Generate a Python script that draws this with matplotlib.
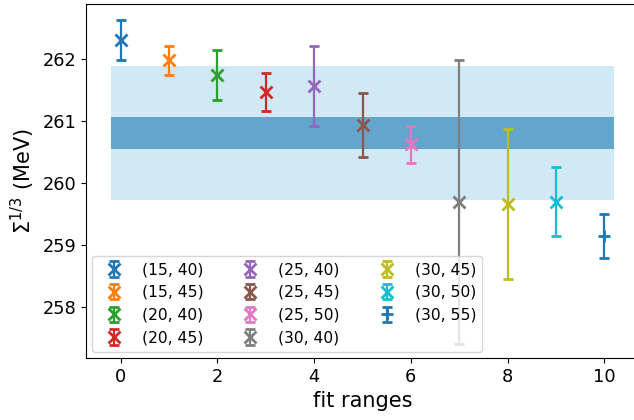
import matplotlib
matplotlib.use("Agg")
import matplotlib.pyplot as plt

# fit-range labels and the fitted values with their errors
fit_labels = ["(15, 40)", "(15, 45)", "(20, 40)", "(20, 45)", "(25, 40)", "(25, 45)",
              "(25, 50)", "(30, 40)", "(30, 45)", "(30, 50)", "(30, 55)"]
values = [262.31, 261.98, 261.75, 261.47, 261.57, 260.94, 260.63, 259.70, 259.67, 259.70, 259.15]
errors = [0.32, 0.23, 0.405, 0.30, 0.65, 0.52, 0.30, 2.29, 1.21, 0.56, 0.36]
markers = ["x"] * 10 + ["+"]

# final estimate: central value, statistical and total uncertainty
band_center = 260.81
band_stat = 0.26
band_total = 1.08
band_x = [-0.2, 10.2]

fig = plt.figure(figsize=(6.34, 4.2), dpi=100)
ax = fig.add_axes([86 / 634, 1 - 358 / 420, (639 - 86) / 634, (358 - 4) / 420])

ax.fill_between(band_x, band_center - band_total, band_center + band_total,
                color="#d0e9f5", lw=0)
ax.fill_between(band_x, band_center - band_stat, band_center + band_stat,
                color="#64a5cd", lw=0)

colors = plt.rcParams["axes.prop_cycle"].by_key()["color"]
for i, (lab, v, e, m) in enumerate(zip(fit_labels, values, errors, markers)):
    ax.errorbar(i, v, yerr=e, fmt=m, color=colors[i % len(colors)], label=lab,
                ms=8, mew=2, elinewidth=1.6, capsize=3.5, capthick=1.6)

ax.set_xlim(-0.72, 10.72)
ax.set_ylim(257.18, 262.89)
ax.set_xticks([0, 2, 4, 6, 8, 10])
ax.set_yticks([258, 259, 260, 261, 262])
ax.tick_params(labelsize=12.8)
ax.set_xlabel("fit ranges", fontsize=15)
ax.set_ylabel(r"$\Sigma^{1/3}$ (MeV)", fontsize=15)

ax.legend(loc="lower left", ncol=3, fontsize=11.2, borderaxespad=0.4)

fig.savefig("out.png", dpi=100)
